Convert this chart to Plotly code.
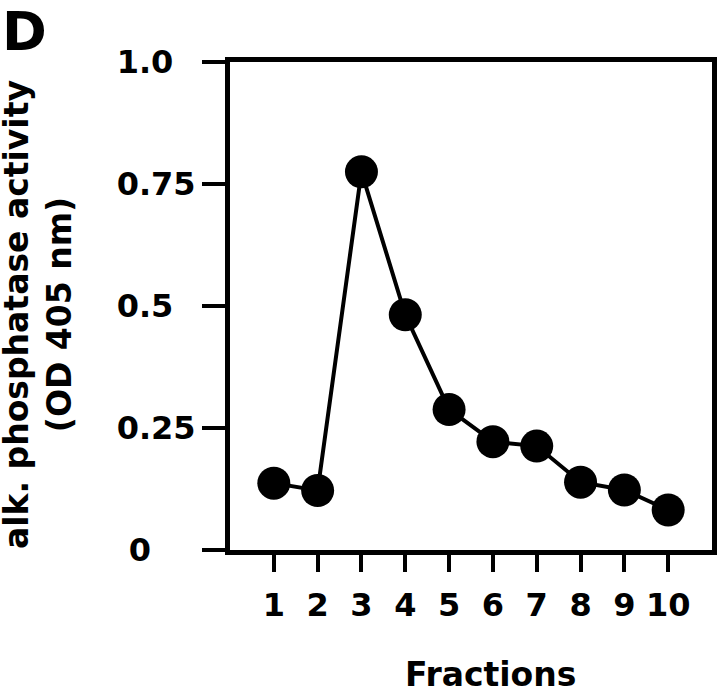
import plotly.graph_objects as go

fractions = [1, 2, 3, 4, 5, 6, 7, 8, 9, 10]
activity = [0.137, 0.122, 0.775, 0.482, 0.288, 0.222, 0.213, 0.139, 0.123, 0.082]
y_ticks = [0, 0.25, 0.5, 0.75, 1.0]
y_tick_labels = ["0", "0.25", "0.5", "0.75", "1.0"]
x_ticks = fractions
x_tick_labels = [str(f) for f in fractions]

W, H = 720, 695
L, R, T, B = 230, 3, 62, 145
pw, ph = W - L - R, H - T - B

def px(xp):
    return (xp - L) / pw

def py(yp):
    return (H - B - yp) / ph

FONT = "DejaVu Sans"
NBSP = "\u00a0"
# the reference's y tick labels are roughly centred rather than right-aligned
pad = {"0": 4, "0.5": 2, "1.0": 2}
y_tick_text = [lab + NBSP * pad.get(lab, 0) for lab in y_tick_labels]

fig = go.Figure(
    go.Scatter(
        x=fractions, y=activity, mode="lines+markers",
        line=dict(color="black", width=4),
        marker=dict(color="black", size=33),
        showlegend=False, cliponaxis=False,
    )
)

fig.update_layout(
    width=W, height=H,
    margin=dict(l=L, r=R, t=T, b=B),
    paper_bgcolor="white", plot_bgcolor="white",
    font=dict(family=FONT, color="black", weight="bold"),
    xaxis=dict(
        range=[0, 11], tickvals=x_ticks, ticktext=x_tick_labels,
        showgrid=False, zeroline=False, showline=True, linecolor="black",
        linewidth=5, mirror=True, ticks="outside", ticklen=17, tickwidth=4,
        tickcolor="black", ticklabelstandoff=6,
        tickfont=dict(size=32, family=FONT, weight="bold"),
    ),
    yaxis=dict(
        range=[0, 1], tickvals=y_ticks, ticktext=y_tick_text,
        showgrid=False, zeroline=False, showline=True, linecolor="black",
        linewidth=5, mirror=True, ticks="outside", ticklen=23, tickwidth=4,
        tickcolor="black", tickfont=dict(size=32, family=FONT, weight="bold"),
    ),
    annotations=[
        dict(text="D", xref="paper", yref="paper", x=px(-2), y=py(-2),
             xanchor="left", yanchor="top", showarrow=False,
             font=dict(size=54, family=FONT, weight="bold")),
        dict(text="Fractions", xref="paper", yref="paper", x=px(493), y=py(674),
             xanchor="center", yanchor="middle", showarrow=False,
             font=dict(size=33, family=FONT, weight="bold")),
        dict(text="alk. phosphatase activity<br>(OD 405 nm)", xref="paper", yref="paper",
             x=px(36), y=py(314), xanchor="center", yanchor="middle", textangle=-90,
             showarrow=False, font=dict(size=33, family=FONT, weight="bold")),
    ],
)

fig.write_html(
    "out.html",
    config={"displayModeBar": False},
    post_script="document.documentElement.style.margin='0';document.body.style.margin='0';"
                "document.body.style.overflow='hidden';",
)
